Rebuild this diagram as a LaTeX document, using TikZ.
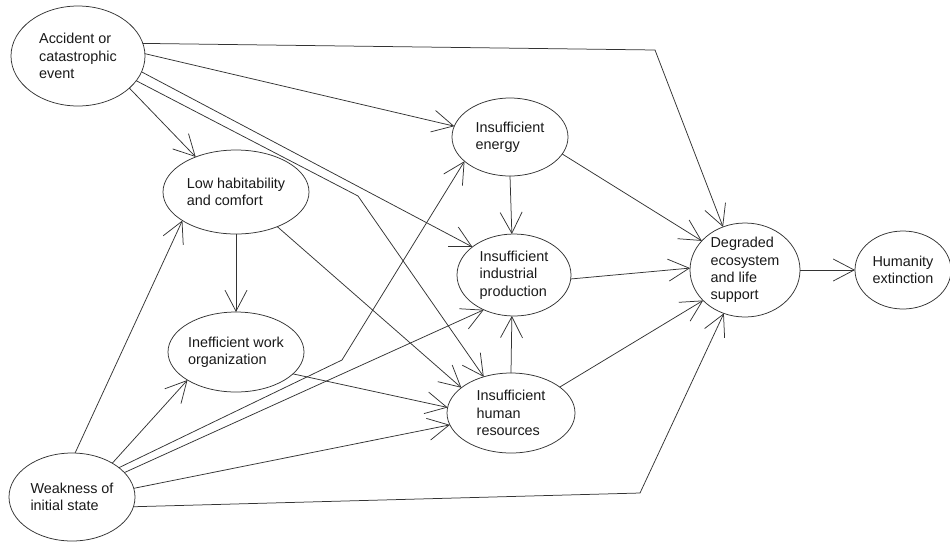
\documentclass[tikz,border=0pt]{standalone}
\usepackage{fontspec}
\setmainfont{Liberation Sans}
\usetikzlibrary{shapes.geometric,arrows.meta}
\begin{document}
\begin{tikzpicture}[x=1pt,y=-1pt,
  ell/.style={ellipse,draw=black!80,line width=0.75pt,inner sep=0pt,outer sep=0pt,align=left,
    font=\fontsize{14.4pt}{17.3pt}\selectfont,text=black!90},
  arr/.style={draw=black!80,line width=0.75pt,-{Straight Barb[length=21pt,width=22pt]}},
]
\useasboundingbox (0,0) rectangle (950,542);
\node[ell,minimum width=134pt,minimum height=100pt] (acc) at (78,56) {Accident or\\catastrophic\\event};
\node[ell,minimum width=146pt,minimum height=84pt] (low) at (236,192) {Low habitability\\and comfort};
\node[ell,minimum width=136pt,minimum height=80pt] (ineff) at (236,352) {Inefficient work\\organization};
\node[ell,minimum width=126pt,minimum height=88pt] (weak) at (72,497) {Weakness of\\initial state};
\node[ell,minimum width=116pt,minimum height=78pt] (energy) at (510,137) {Insufficient\\energy};
\node[ell,minimum width=114pt,minimum height=82pt] (prod) at (514,275) {Insufficient\\industrial\\production};
\node[ell,minimum width=128pt,minimum height=80pt] (human) at (511,413) {Insufficient\\human\\resources};
\node[ell,minimum width=110pt,minimum height=94pt] (deg) at (745,270) {Degraded\\ecosystem\\and life\\support};
\node[ell,minimum width=96pt,minimum height=78pt] (hum) at (903,270) {Humanity\\extinction};

\coordinate (b1) at (655,50);
\coordinate (b2) at (358,196);
\coordinate (b3) at (342,360);
\coordinate (b4) at (640,493);

\draw[arr] (acc.11) -- (b1) -- (deg.117);
\draw[arr] (acc.2) -- (energy.169);
\draw[arr] (acc.-14) -- (prod.146);
\draw[arr] (acc.-23) -- (b2) -- (human.127);
\draw[arr] (acc.-32) -- (low.139);
\draw[arr] (low.south) -- (ineff.north);
\draw[arr] (low.-40) -- (human.153);
\draw[arr] (ineff.-21) -- (human.175);
\draw[arr] (energy.south) -- (prod.93);
\draw[arr] (energy.-18) -- (deg.146);
\draw[arr] (prod.-4) -- (deg.178);
\draw[arr] (human.north) -- (prod.-93);
\draw[arr] (human.28) -- (deg.216);
\draw[arr] (weak.86) -- (low.208);
\draw[arr] (weak.40) -- (ineff.210);
\draw[arr] (weak.32) -- (b3) -- (energy.208);
\draw[arr] (weak.25) -- (prod.229);
\draw[arr] (weak.8) -- (human.191);
\draw[arr] (weak.-9) -- (b4) -- (deg.244);
\draw[arr] (deg.east) -- (hum.west);
\end{tikzpicture}
\end{document}
